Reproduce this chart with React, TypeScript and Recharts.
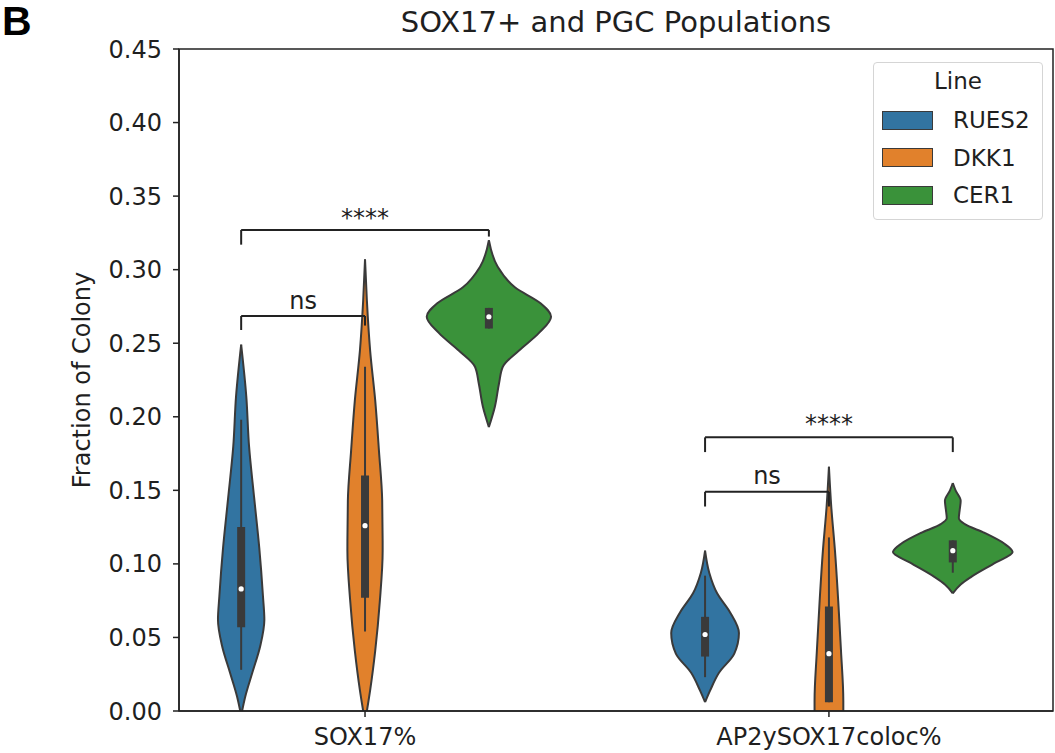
import React from 'react';
import {
  ComposedChart,
  Area,
  XAxis,
  YAxis,
  ReferenceLine,
  ReferenceDot,
  ReferenceArea
} from 'recharts';

const lineNames = ['RUES2', 'DKK1', 'CER1'];
const lineColors = ['#3274a1', '#e1812c', '#3a923a'];
const categories = ['SOX17%', 'AP2ySOX17coloc%'];
const hueOffsets = [-0.267, 0, 0.267];
const yTicks = [0, 0.05, 0.1, 0.15, 0.2, 0.25, 0.3, 0.35, 0.4, 0.45];

// violin outlines: y level + half width (in category units)
const sox17Rues2Y = [0, 0.01, 0.026, 0.044, 0.062, 0.078, 0.111, 0.145, 0.18, 0.214, 0.249];
const sox17Rues2W = [0.002, 0.009, 0.024, 0.041, 0.05, 0.047, 0.039, 0.028, 0.017, 0.011, 0];
const sox17Dkk1Y = [0, 0.014, 0.041, 0.075, 0.109, 0.143, 0.177, 0.211, 0.245, 0.279, 0.307];
const sox17Dkk1W = [0.004, 0.011, 0.022, 0.032, 0.038, 0.037, 0.03, 0.022, 0.011, 0.004, 0];
const sox17Cer1Y = [0.193, 0.207, 0.223, 0.234, 0.245, 0.257, 0.268, 0.277, 0.288, 0.302, 0.32];
const sox17Cer1W = [0, 0.013, 0.022, 0.03, 0.065, 0.108, 0.134, 0.112, 0.056, 0.019, 0];
const colocRues2Y = [0.006, 0.014, 0.026, 0.039, 0.053, 0.067, 0.08, 0.094, 0.109];
const colocRues2W = [0, 0.011, 0.03, 0.063, 0.073, 0.054, 0.026, 0.009, 0];
const colocDkk1Y = [0, 0.007, 0.041, 0.075, 0.109, 0.139, 0.166];
const colocDkk1W = [0.031, 0.031, 0.026, 0.02, 0.013, 0.005, 0];
const colocCer1Y = [0.08, 0.086, 0.091, 0.101, 0.108, 0.114, 0.121, 0.127, 0.131, 0.137, 0.143, 0.15, 0.155];
const colocCer1W = [0, 0.017, 0.039, 0.093, 0.129, 0.11, 0.069, 0.026, 0.013, 0.015, 0.017, 0.006, 0];

// inner boxes: [whisker low, q1, median, q3, whisker high]
const sox17Rues2Box = [0.028, 0.057, 0.083, 0.125, 0.198];
const sox17Dkk1Box = [0.054, 0.077, 0.126, 0.16, 0.234];
const sox17Cer1Box = [0.26, 0.26, 0.268, 0.274, 0.274];
const colocRues2Box = [0.023, 0.037, 0.052, 0.064, 0.092];
const colocDkk1Box = [0.006, 0.006, 0.039, 0.071, 0.118];
const colocCer1Box = [0.094, 0.101, 0.109, 0.116, 0.116];

// significance brackets
const brackets = [
  { label: '****', span: [-0.267, 0.267], y: 0.327, legs: [0.317, 0.3225], textY: 0.3355 },
  { label: 'ns', span: [-0.267, 0], y: 0.2685, legs: [0.259, 0.262], textY: 0.279 },
  { label: '****', span: [0.733, 1.267], y: 0.186, legs: [0.176, 0.176], textY: 0.1955 },
  { label: 'ns', span: [0.733, 1], y: 0.149, legs: [0.139, 0.139], textY: 0.16 }
];

const violins = [
  { cat: 0, hue: 0, ys: sox17Rues2Y, ws: sox17Rues2W, box: sox17Rues2Box },
  { cat: 0, hue: 1, ys: sox17Dkk1Y, ws: sox17Dkk1W, box: sox17Dkk1Box },
  { cat: 0, hue: 2, ys: sox17Cer1Y, ws: sox17Cer1W, box: sox17Cer1Box },
  { cat: 1, hue: 0, ys: colocRues2Y, ws: colocRues2W, box: colocRues2Box },
  { cat: 1, hue: 1, ys: colocDkk1Y, ws: colocDkk1W, box: colocDkk1Box },
  { cat: 1, hue: 2, ys: colocCer1Y, ws: colocCer1W, box: colocCer1Box }
].map(v => {
  const c = v.cat + hueOffsets[v.hue];
  return {
    ...v,
    c,
    data: v.ys.map((y, i) => ({ y, band: [c - v.ws[i], c + v.ws[i]] }))
  };
});

const X_MIN = -0.401;
const X_MAX = 1.483;
const Y_MAX = 0.45;
const INK = '#3a3a3a';
const TEXT = '#1f1f1f';
const FONT = '"DejaVu Sans", sans-serif';

const Legend = () => (
  <div
    style={{
      position: 'absolute',
      left: 873,
      top: 62,
      width: 168,
      height: 156,
      border: '1px solid #d5d5d5',
      borderRadius: 4,
      background: '#fff',
      fontFamily: FONT,
      fontSize: 23,
      color: TEXT
    }}
  >
    <div style={{ position: 'absolute', top: 5, width: '100%', textAlign: 'center' }}>Line</div>
    {lineNames.map((name, i) => (
      <div key={name} style={{ position: 'absolute', left: 8, top: 44 + i * 37.5, display: 'flex', alignItems: 'center' }}>
        <div style={{ width: 49, height: 17, background: lineColors[i], border: `1px solid ${INK}` }} />
        <span style={{ marginLeft: 20 }}>{name}</span>
      </div>
    ))}
  </div>
);

export default function App() {
  return (
    <div style={{ position: 'absolute', left: 0, top: 0, width: 1055, height: 753, background: '#fff', fontFamily: FONT }}>
      <div style={{ position: 'absolute', left: 2, top: 1, fontFamily: '"Liberation Sans", sans-serif', fontWeight: 'bold', fontSize: 41, lineHeight: 1, color: '#000' }}>
        B
      </div>
      <div style={{ position: 'absolute', left: 179, top: 5, width: 874, textAlign: 'center', fontSize: 29, color: TEXT }}>
        SOX17+ and PGC Populations
      </div>
      <ComposedChart
        width={1055}
        height={753}
        layout="vertical"
        margin={{ top: 49, right: 2, bottom: 0, left: 0 }}
      >
        <XAxis
          type="number"
          dataKey="band"
          domain={[X_MIN, X_MAX]}
          allowDataOverflow
          ticks={[0, 1]}
          tickFormatter={(v: number) => categories[v]}
          height={42}
          tickSize={6}
          tickMargin={11}
          stroke="#222"
          strokeWidth={1.5}
          tick={{ fontSize: 24, fill: TEXT }}
        />
        <YAxis
          type="number"
          dataKey="y"
          domain={[0, Y_MAX]}
          reversed
          allowDataOverflow
          ticks={yTicks}
          tickFormatter={(v: number) => v.toFixed(2)}
          width={179}
          tickSize={6}
          tickMargin={11}
          stroke="#222"
          strokeWidth={1.5}
          tick={{ fontSize: 24, fill: TEXT }}
          label={{ value: 'Fraction of Colony', angle: -90, position: 'center', dx: -8, fontSize: 24, fill: TEXT }}
        />
        {violins.map((v, i) => (
          <Area
            key={`violin-${i}`}
            data={v.data}
            dataKey="band"
            type="monotone"
            fill={lineColors[v.hue]}
            fillOpacity={1}
            stroke={INK}
            strokeWidth={2}
            dot={false}
            activeDot={false}
            isAnimationActive={false}
          />
        ))}
        {violins.map((v, i) => (
          <ReferenceLine
            key={`whisker-${i}`}
            segment={[{ x: v.c, y: v.box[0] }, { x: v.c, y: v.box[4] }]}
            stroke={INK}
            strokeWidth={2}
          />
        ))}
        {violins.map((v, i) => (
          <ReferenceLine
            key={`iqr-${i}`}
            segment={[{ x: v.c, y: v.box[1] }, { x: v.c, y: v.box[3] }]}
            stroke={INK}
            strokeWidth={8}
          />
        ))}
        {violins.map((v, i) => (
          <ReferenceDot key={`med-${i}`} x={v.c} y={v.box[2]} r={2.6} fill="#fff" stroke="none" />
        ))}
        {brackets.map((b, i) => (
          <ReferenceLine
            key={`br-h-${i}`}
            segment={[{ x: b.span[0], y: b.y }, { x: b.span[1], y: b.y }]}
            stroke="#222"
            strokeWidth={2}
          />
        ))}
        {brackets.map((b, i) => (
          <ReferenceLine
            key={`br-l-${i}`}
            segment={[{ x: b.span[0], y: b.legs[0] }, { x: b.span[0], y: b.y }]}
            stroke="#222"
            strokeWidth={2}
          />
        ))}
        {brackets.map((b, i) => (
          <ReferenceLine
            key={`br-r-${i}`}
            segment={[{ x: b.span[1], y: b.legs[1] }, { x: b.span[1], y: b.y }]}
            stroke="#222"
            strokeWidth={2}
          />
        ))}
        {brackets.map((b, i) => (
          <ReferenceDot
            key={`br-t-${i}`}
            x={(b.span[0] + b.span[1]) / 2}
            y={b.textY}
            r={0}
            fill="none"
            stroke="none"
            label={{ value: b.label, position: 'center', fontSize: 24, fill: TEXT }}
          />
        ))}
        <ReferenceArea x1={X_MIN} x2={X_MAX} y1={0} y2={Y_MAX} fill="none" stroke="#222" strokeWidth={1.5} />
      </ComposedChart>
      <Legend />
    </div>
  );
}
